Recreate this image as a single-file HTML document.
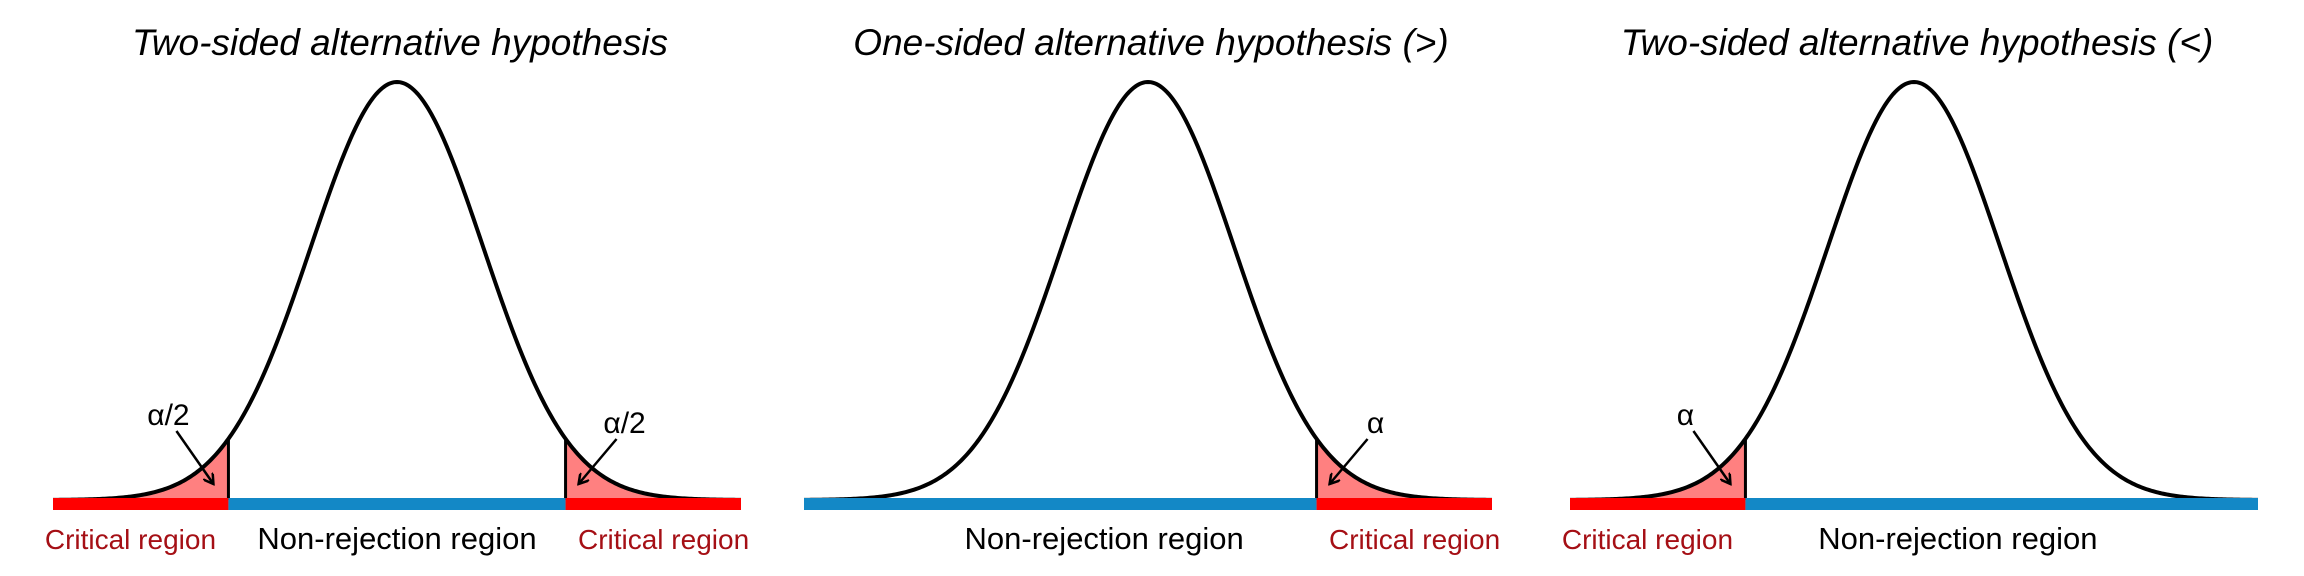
<!DOCTYPE html>
<html><head><meta charset="utf-8">
<style>
html,body{margin:0;padding:0;background:#fff;}
svg{display:block;font-family:"Liberation Sans",sans-serif;}
</style></head>
<body>
<svg id="chart" width="2304" height="576" viewBox="0 0 2304 576" xmlns="http://www.w3.org/2000/svg"></svg>
<script>
const titles = ["Two-sided alternative hypothesis","One-sided alternative hypothesis (>)","Two-sided alternative hypothesis (<)"];
const tails = [["left","right"],["right"],["left"]];
const zCrit = [1.96, 1.96, 1.96];
const alphaLabels = ["α/2","α","α"];
const zRange = [-4, 4];
const centers = [397, 1148, 1914];
const sigmaPx = 86;
const baseY = 500, peakY = 82, lineY = 504;
const NS = "http://www.w3.org/2000/svg";
const svg = document.getElementById('chart');
function dn(z){return Math.exp(-z*z/2)/Math.sqrt(2*Math.PI);}
function xs(p,z){return centers[p]+z*sigmaPx;}
function ys(d){return baseY-d*(baseY-peakY)/dn(0);}
function mk(tag,attrs,parent){const e=document.createElementNS(NS,tag);for(const k in attrs)e.setAttribute(k,attrs[k]);(parent||svg).appendChild(e);return e;}
const defs=mk('defs',{});
const m=mk('marker',{id:'ah',markerWidth:'12',markerHeight:'12',refX:'10',refY:'6',orient:'auto',markerUnits:'userSpaceOnUse'},defs);
mk('path',{d:'M0,0 L10,6 L0,12',fill:'none',stroke:'#000','stroke-width':'2.5'},m);
const arrowOffsets = {left:[-37,-53], right:[38,-45]};
for(let p=0;p<3;p++){
  const g=mk('g',{});
  
  
  const t=mk('text',{x:centers[p]+3,y:55,'text-anchor':'middle','font-size':'37','font-style':'italic',fill:'#000'},g);
  
  
  t.textContent=titles[p];
  const zc=zCrit[p];
  const hasL=tails[p].includes('left'), hasR=tails[p].includes('right');
  tails[p].forEach(side=>{
    const a = side==='left'?zRange[0]:zc, b= side==='left'?-zc:zRange[1];
    let d='M'+xs(p,a)+','+baseY;
    for(let z=a;z<=b+1e-9;z+=0.02) d+=' L'+xs(p,z).toFixed(2)+','+ys(dn(z)).toFixed(2);
    d+=' L'+xs(p,b)+','+baseY+' Z';
    const s=mk('path',{d:d,fill:'#FF8080',stroke:'none'},g);
    
    
    const ze= side==='left'?-zc:zc;
    const v=mk('line',{x1:xs(p,ze),y1:baseY,x2:xs(p,ze),y2:ys(dn(ze)),stroke:'#000','stroke-width':'3'},g);
    
    
  });
  let d='';
  for(let z=zRange[0];z<=zRange[1]+1e-9;z+=0.02) d+=(d?' L':'M')+xs(p,z).toFixed(2)+','+ys(dn(z)).toFixed(2);
  const c=mk('path',{d:d,fill:'none',stroke:'#000','stroke-width':'4'},g);
  
  
  const lo = hasL?-zc:zRange[0], hi = hasR?zc:zRange[1];
  const segs=[];
  if(hasL) segs.push([zRange[0],-zc,'#FF0000','critical-region-bar-left']);
  segs.push([lo,hi,'#1388C6','non-rejection-bar']);
  if(hasR) segs.push([zc,zRange[1],'#FF0000','critical-region-bar-right']);
  segs.forEach(s=>{
    const r=mk('rect',{x:xs(p,s[0]),y:lineY-6,width:xs(p,s[1])-xs(p,s[0]),height:12,fill:s[2]},g);
    
    
  });
  const labs=[];
  if(hasL) labs.push([xs(p,-zc)-98,'Critical region','#A50F15','critical-region-label-left']);
  labs.push([xs(p,(lo+hi)/4),'Non-rejection region','#000','non-rejection-label']);
  if(hasR) labs.push([xs(p,zc)+98,'Critical region','#A50F15','critical-region-label-right']);
  labs.forEach(l=>{
    const tx=mk('text',{x:l[0],y:549,'text-anchor':'middle','font-size':l[2]==='#000'?'31':'28',fill:l[2]},g);
    
    
    tx.textContent=l[1];
  });
  tails[p].forEach(side=>{
    const ze= side==='left'?-zc:zc;
    const tip=[xs(p,ze)+(side==='left'?-15:13), 484];
    const st=[tip[0]+arrowOffsets[side][0], tip[1]+arrowOffsets[side][1]];
    const a=mk('line',{x1:st[0],y1:st[1],x2:tip[0],y2:tip[1],stroke:'#000','stroke-width':'2.5','marker-end':'url(#ah)'},g);
    
    
    const lt=mk('text',{x:st[0]+(side==='left'?-8:8),y:st[1]-6,'text-anchor':'middle','font-size':'30',fill:'#000'},g);
    
    
    lt.textContent=alphaLabels[p];
  });
}
</script>
</body></html>
